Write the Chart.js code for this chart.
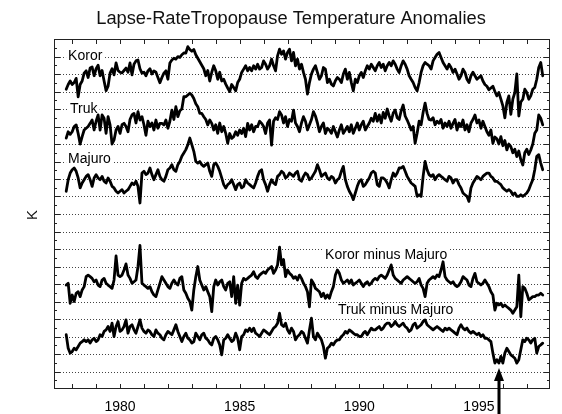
<!DOCTYPE html>
<html>
<head>
<meta charset="utf-8">
<script src="https://cdn.jsdelivr.net/npm/chart.js@4/dist/chart.umd.min.js"></script>
<style>
  html, body { margin: 0; padding: 0; background: #fff; }
  #wrap { width: 562px; height: 414px; }
</style>
</head>
<body>
<div id="wrap"><canvas id="c" width="562" height="414"></canvas></div>
<script>
// Monthly lapse-rate tropopause temperature anomalies (K), 240 months from October 1977.
const firstMonth = 1977.75;

const koror = [
  -0.87,-0.60,-0.40,-0.60,-0.49,-0.25,-1.30,-0.60,-0.40, 0.05, 0.18,-0.20,
   0.34, 0.40,-0.10, 0.30, 0.50,-0.10, 0.20,-0.40,-0.95,-0.70, 0.05, 0.30,
  -0.05, 0.63, 0.20, 0.10, 0.06, 0.20, 0.34, 0.10, 0.63,-0.05, 0.56, 0.75,
   0.80, 0.30, 0.05, 0.10,-0.10, 0.18, 0.30, 0.00, 0.18, 0.10,-0.20,-0.50,
  -0.20, 0.05, 0.18,-0.30, 0.63, 0.80, 0.90, 0.85, 0.99, 0.95, 1.10, 1.20,
   1.20, 1.56, 1.40, 1.30, 1.40, 1.10, 0.90, 0.70, 0.50, 0.30,-0.10, 0.20,
  -0.40, 0.10, 0.47, 0.18,-0.30, 0.10,-0.40,-0.30,-0.58,-0.80,-1.00,-0.60,
  -0.77,-0.96,-0.49,-0.30, 0.09, 0.28, 0.47, 0.18, 0.37, 0.18, 0.47, 0.28,
   0.56, 0.28, 0.37, 0.75, 0.56, 0.28, 0.47, 0.85, 0.47, 0.18, 1.04, 1.42,
   1.13, 1.32, 0.85, 1.23, 1.42, 0.75, 1.23, 0.47, 0.85, 0.28, 0.56, 0.09,
  -0.30,-1.15,-0.49, 0.00, 0.28, 0.47, 0.09,-0.30,-0.10, 0.37, 0.28,-0.49,
  -0.30,-0.58,-0.68,-0.39,-0.20,-0.30,-0.49, 0.00, 0.28,-0.30, 0.09,-0.49,
  -0.96,-0.30,-0.49,-0.10, 0.09,-0.20, 0.18, 0.47, 0.28, 0.56, 0.37, 0.18,
   0.47, 0.66, 0.37, 0.56, 0.18, 0.47, 0.66, 0.47, 0.75, 0.56, 0.28, 0.09,
   0.47, 0.75, 0.56, 0.28,-0.10,-0.30,-0.49,-0.77,-0.96,-0.49, 0.09, 0.47,
   0.66, 0.56, 0.47, 0.28, 0.75, 0.94, 1.13, 1.23, 0.94, 0.66, 0.47, 0.28,
   0.56, 0.37, 0.09, 0.28, 0.00,-0.30,-0.10, 0.28, 0.09,-0.30,-0.49,-0.10,
   0.10,-0.10,-0.30,-0.20,-0.10,-0.40,-0.60,-0.70,-0.90,-0.80,-0.70,-1.00,
  -1.25,-1.06,-1.44,-1.82,-2.50,-1.63,-1.25,-2.30,-1.44,-1.06, 0.00,-2.40,
  -1.60,-1.44,-0.87,-1.06,-1.44,-1.25,-0.87,-0.77,-0.30, 0.37, 0.66,-0.10
];

const truk = [
  -0.66,-0.30,-0.45,-0.30, 0.00, 0.09,-0.40,-1.00,-0.58,-0.20,-0.10, 0.00,
   0.18, 0.37,-0.20, 0.30, 0.66,-0.20, 0.66, 0.47,-0.39, 0.56, 0.09,-1.00,
  -0.77,-0.20, 0.00,-0.39, 0.10, 0.18, 0.00,-0.30, 0.40, 0.66, 0.75, 0.20,
   0.85, 0.37, 0.56, 0.10,-0.50, 0.30, 0.00, 0.20,-0.20, 0.37,-0.10, 0.18,
   0.18, 0.09, 0.37,-0.10, 0.30, 0.94, 0.40, 1.13, 0.56, 0.90, 1.00, 1.70,
   1.70, 1.80, 1.90, 1.80, 1.60, 1.30, 1.13, 0.75, 0.75, 0.56, 0.40, 0.09,
   0.37, 0.18,-0.20, 0.10,-0.39, 0.20,-0.30, 0.00,-0.39,-0.96,-0.40,-0.68,
  -0.58,-0.30,-0.50,-0.20,-0.40,-0.10,-0.58, 0.18,-0.20, 0.10,-0.30, 0.00,
   0.00, 0.30, 0.18, 0.00,-0.40, 0.20, 0.37,-1.06, 0.30, 0.50, 0.40, 0.85,
   0.66, 0.20, 0.56, 0.00, 0.40, 0.30, 0.94, 0.20, 0.00,-0.30, 0.20, 0.56,
   0.30,-0.20, 0.10, 0.40, 0.85, 0.60, 0.20,-0.30, 0.00, 0.20,-0.40,-0.10,
  -0.20,-0.39, 0.00,-0.30,-0.60,-0.20, 0.10,-0.39,-0.20, 0.00,-0.30, 0.10,
  -0.39,-0.10, 0.20,-0.20, 0.10, 0.30,-0.20, 0.00, 0.20, 0.47, 0.30, 0.75,
   0.30, 0.66, 0.20, 0.80, 0.47, 1.00, 0.60, 0.30, 0.77, 0.94, 0.50, 0.40,
   0.90, 1.23, 0.60, 0.37, 0.10,-0.20, 0.00,-0.96,-0.39, 0.30, 0.10, 0.80,
   1.34, 0.75, 0.40, 0.37, 0.50, 0.10, 0.30, 0.18, 0.40,-0.10, 0.20, 0.00,
   0.30,-0.10, 0.18, 0.40,-0.20, 0.20, 0.00, 0.37,-0.20, 0.10,-0.30, 0.20,
   0.40, 0.66, 0.20, 0.37,-0.10, 0.30, 0.00,-0.30,-0.50,-0.20,-0.96,-0.60,
  -0.70,-1.00,-0.58,-1.10,-0.80,-1.34,-1.00,-1.15,-1.50,-1.30,-1.72,-1.40,
  -1.90,-2.20,-1.50,-1.30,-1.60,-1.34,-1.00,-0.39,-0.20, 0.66, 0.47, 0.09
];

const majuro = [
  -0.70,-0.04, 0.34, 0.53, 0.63, 0.44, 0.06,-0.51,-0.23,-0.04, 0.15, 0.25,
  -0.04,-0.42, 0.06, 0.25, 0.06,-0.04, 0.15,-0.13,-0.23, 0.06,-0.13,-0.42,
  -0.51,-0.70,-0.80,-0.70,-0.61,-0.80,-0.70,-0.61,-0.42,-0.23,-0.32,-0.13,
  -0.42,-1.37, 0.34, 0.44, 0.25, 0.34, 0.63, 0.25,-0.04, 0.25, 0.53, 0.15,
  -0.04,-0.13, 0.15, 0.53, 0.63, 0.82, 0.53, 0.44, 0.82, 1.00, 1.30, 1.49,
   1.68, 1.96, 2.34, 1.96, 1.58, 1.00, 0.91, 1.00, 0.82, 0.72, 0.82, 0.91,
   0.44, 0.15, 0.82, 0.91, 0.72, 0.44, 0.06,-0.32,-0.51,-0.32,-0.23,-0.04,
  -0.32,-0.61,-0.32,-0.23,-0.51,-0.42,-0.04,-0.23,-0.32,-0.42,-0.51,-0.23,
   0.15, 0.44, 0.53,-0.04,-0.32,-0.70,-0.32,-0.04,-0.23,-0.32, 0.15, 0.25,
   0.44, 0.34, 0.06, 0.15, 0.34, 0.25, 0.15, 0.34, 0.44,-0.04,-0.13, 0.15,
   0.34, 0.25,-0.04, 0.06, 0.25, 0.44, 0.82, 0.53, 0.15, 0.25, 0.34, 0.06,
  -0.04, 0.15, 0.06,-0.23,-0.04, 0.06, 0.44, 0.72,-0.04,-0.42,-0.70,-0.90,
  -1.18,-0.80,-0.42,-0.13,-0.04,-0.42,-0.32,-0.13, 0.06, 0.34, 0.44, 0.34,
  -0.32,-0.42, 0.06, 0.06,-0.04,-0.23,-0.51,-0.04, 0.34, 0.15, 0.34, 0.63,
   0.63, 0.72, 0.44, 0.15,-0.04,-0.23,-0.32,-0.42,-0.99,-0.90,-0.99, 0.15,
   1.00, 0.53, 0.25, 0.15, 0.25,-0.04, 0.15, 0.25, 0.15, 0.06,-0.04,-0.13,
   0.15, 0.06,-0.23,-0.04,-0.04,-0.32,-0.51,-0.80,-0.90,-0.99,-1.28,-0.51,
  -0.23,-0.04, 0.15, 0.06,-0.04, 0.15, 0.25, 0.34, 0.34, 0.15, 0.06,-0.13,
  -0.13,-0.23,-0.32,-0.51,-0.61,-0.70,-0.61,-0.70,-0.90,-0.80,-0.99,-0.99,
  -0.90,-0.99,-0.90,-0.80,-0.61,-0.32,-0.04, 0.53, 1.30, 1.39, 0.91, 0.53
];

const kororMinusMajuro = [
  -0.06, 0.04,-1.10,-0.63,-1.00,-0.53,-0.44,-0.72,-0.34,-0.15, 0.42, 0.51,
   0.42, 0.32, 0.13, 0.23,-0.06,-0.15, 0.23, 0.32, 0.04,-0.06,-0.15,-0.25,
   0.23, 1.60, 0.51, 0.42, 0.51, 0.80, 1.15, 0.51, 0.32, 0.04, 0.13, 0.23,
   1.00, 2.20, 0.04,-0.06,-0.15,-0.25,-0.15,-0.44,-0.63,-0.72,-0.34, 0.04,
   0.42, 0.23, 0.04,-0.15,-0.25, 0.04, 0.23, 0.04,-0.06, 0.32, 0.42,-0.34,
  -0.53,-0.82,-1.00,-1.49,-0.34, 0.42, 1.00, 0.23,-0.06,-0.34,-0.15,-0.44,
  -0.72,-1.58,-0.15, 0.23,-0.06, 0.13, 0.23,-0.15,-0.34, 0.04, 0.13,-0.72,
   0.42,-1.10,-0.06,-1.20, 0.04, 0.32, 0.23, 0.32, 0.42, 0.51, 0.70, 0.42,
   0.32, 0.51, 0.61, 0.70, 0.61, 0.80, 0.90, 1.00, 0.61, 0.80, 1.09, 2.10,
   1.09, 1.40, 0.42, 0.80, 0.61, 0.51, 0.32, 0.42, 0.23, 0.51, 0.32, 0.04,
  -0.15,-0.44,-1.30, 0.23, 0.04,-0.25,-0.34,-0.44,-0.72,-0.53,-0.82,-0.63,
  -0.82,-0.44,-0.15, 0.51, 0.80, 0.61, 0.23, 0.04, 0.13, 0.23, 0.04, 0.23,
  -0.06, 0.04, 0.13, 0.23, 0.04,-0.15, 0.04, 0.13,-0.06, 0.04, 0.23, 0.32,
   0.23, 0.42, 0.51, 0.42, 0.32, 0.51, 0.80, 1.09, 0.51, 0.32, 0.23, 0.13,
   0.04, 0.23, 0.32, 0.42, 0.32, 0.23, 0.13, 0.04, 0.13, 0.32,-0.06,-0.25,
  -0.72, 0.04, 0.23, 0.32, 0.42, 0.32, 0.51, 0.42, 0.80, 1.27, 0.42, 0.23,
   0.13, 0.04, 0.13,-0.06,-0.15,-0.06, 0.13, 0.42, 0.32, 0.23,-0.06,-0.15,
   0.32, 0.61, 0.13, 0.04,-0.06, 0.04, 0.23, 0.04,-0.15,-0.44,-0.63,-1.49,
  -1.10,-1.20,-1.10,-1.30,-1.20,-1.30,-1.39,-1.49,-1.68,-1.49,-1.30, 0.51,
  -1.87,-0.15,-0.25,-0.53,-0.91,-0.82,-0.72,-0.72,-0.63,-0.63,-0.53,-0.63
];

const trukMinusMajuro = [
   0.10,-0.67,-0.95,-0.86,-0.67,-0.76,-0.57,-0.38,-0.29,-0.19,-0.29,-0.19,
  -0.38,-0.19,-0.10,-0.29,-0.19, 0.10, 0.00, 0.29, 0.38, 0.57, 0.29, 0.76,
   0.00, 0.57, 0.86, 0.29, 0.38, 0.57, 0.95, 0.19, 0.57, 0.67, 0.38, 0.19,
   0.57, 0.95, 0.48, 0.29, 0.19, 0.38, 0.29, 0.10, 0.00, 0.38, 0.19, 0.10,
  -0.10,-0.19, 0.10, 0.29, 0.19, 0.10, 0.38, 0.67, 0.29, 0.00,-0.29, 0.00,
   0.19,-0.10,-0.19,-0.38,-0.29, 0.19, 0.00,-0.19, 0.10, 0.19,-0.10,-0.19,
  -0.38,-0.48,-0.10, 0.00,-0.19,-0.48,-1.05,-0.19,-0.10, 0.10,-0.10,-0.29,
  -0.19, 0.19,-0.10,-0.76, 0.00, 0.10, 0.38, 0.29, 0.48, 0.29, 0.48, 0.19,
   0.10, 0.00, 0.19, 0.38, 0.29, 0.19, 0.10, 0.29, 0.48, 0.57, 0.76, 1.33,
   0.67, 0.57, 0.76, 0.38, 0.19, 0.48, 0.29,-0.19, 0.00, 0.10, 0.29, 0.19,
  -0.10,-0.38, 0.38, 1.05, 0.00,-0.19, 0.19, 0.00,-0.19,-0.57,-1.24,-0.67,
  -0.57,-0.38,-0.48,-0.29,-0.19,-0.19, 0.00, 0.10, 0.29, 0.19, 0.38, 0.29,
   0.19, 0.10, 0.10, 0.00, 0.00, 0.19, 0.29, 0.10, 0.29, 0.48, 0.38, 0.38,
   0.48, 0.57, 0.38, 0.48, 0.67, 0.76, 0.76, 0.57, 0.67, 0.86, 0.67, 0.57,
   0.67, 0.76, 0.57, 0.48, 0.29, 0.38, 0.67, 0.76, 0.48, 0.57, 0.67, 0.86,
   0.95, 0.67, 0.57, 0.48, 0.38, 0.48, 0.57, 0.48, 0.38, 0.29, 0.48, 0.38,
   0.48, 0.38, 0.29, 0.19, 0.10, 0.48, 0.67, 0.48, 0.38, 0.48, 0.29, 0.19,
   0.29, 0.19, 0.10, 0.19, 0.00, 0.10,-0.10,-0.10,-0.19,-0.29,-0.95,-1.52,
  -1.33,-1.52,-1.14,-1.52,-0.95,-0.67,-0.86,-1.05,-1.14,-1.24,-1.52,-1.33,
  -0.76,-0.19,-0.29,-0.10,-0.19,-0.38,-0.19,-0.10,-0.95,-0.57,-0.48,-0.38
];

// Each curve is shifted up the stack by its own offset (K).
const seriesNames   = ['Koror', 'Truk', 'Majuro', 'Koror minus Majuro', 'Truk minus Majuro'];
const seriesValues  = [koror, truk, majuro, kororMinusMajuro, trukMinusMajuro];
const seriesOffsets = [18, 15, 12, 6, 3];

// Label anchors: [decimal year of left edge, value of vertical centre]
const labelAnchors = [[1977.83, 19.0], [1977.91, 16.0], [1977.83, 13.15], [1988.57, 7.66], [1989.11, 4.51]];

const xTickLabels = [1980, 1985, 1990, 1995];
const arrowYear = 1995.85;
const xMin = 1977.24, xMax = 1997.97;
const yMin = 0, yMax = 20;

const FONT = '"Liberation Sans", Arial, Helvetica, sans-serif';

const datasets = seriesValues.map((vals, s) => ({
  label: seriesNames[s],
  data: vals.map((v, i) => ({ x: firstMonth + i / 12, y: seriesOffsets[s] + v })),
  borderColor: '#000',
  borderWidth: 2.8,
  pointRadius: 0,
  tension: 0,
  fill: false,
  borderJoinStyle: 'round',
  borderCapStyle: 'round'
}));

const framePlugin = {
  id: 'frame',
  beforeDatasetsDraw(chart) {
    const { ctx, chartArea: a, scales: { x, y } } = chart;
    ctx.save();
    // dotted horizontal grid
    ctx.strokeStyle = '#444';
    ctx.lineWidth = 1;
    ctx.setLineDash([1, 2]);
    for (let v = yMin + 1; v < yMax; v++) {
      const py = Math.round(y.getPixelForValue(v)) + 0.5;
      ctx.beginPath(); ctx.moveTo(a.left, py); ctx.lineTo(a.right, py); ctx.stroke();
    }
    ctx.setLineDash([]);
    // frame
    ctx.strokeStyle = '#222';
    ctx.strokeRect(a.left + 0.5, a.top + 0.5, a.right - a.left - 1, a.bottom - a.top - 1);
    // inward tick marks
    ctx.beginPath();
    for (let v = yMin + 0.5; v < yMax; v += 0.5) {
      const py = Math.round(y.getPixelForValue(v)) + 0.5;
      const len = Number.isInteger(v) ? 6 : 3;
      ctx.moveTo(a.left, py); ctx.lineTo(a.left + len, py);
      ctx.moveTo(a.right, py); ctx.lineTo(a.right - len, py);
    }
    for (let yr = Math.ceil(xMin); yr <= Math.floor(xMax); yr++) {
      const px = Math.round(x.getPixelForValue(yr)) + 0.5;
      ctx.moveTo(px, a.bottom); ctx.lineTo(px, a.bottom - 5);
      ctx.moveTo(px, a.top); ctx.lineTo(px, a.top + 5);
    }
    ctx.stroke();
    // series labels on white boxes
    ctx.font = '14px ' + FONT;
    ctx.textBaseline = 'middle';
    ctx.textAlign = 'left';
    seriesNames.forEach((name, s) => {
      const px = x.getPixelForValue(labelAnchors[s][0]);
      const py = y.getPixelForValue(labelAnchors[s][1]);
      const w = ctx.measureText(name).width;
      ctx.fillStyle = '#fff';
      ctx.fillRect(px - 2, py - 7, w + 4, 14);
      ctx.fillStyle = '#000';
      ctx.fillText(name, px, py);
    });
    ctx.restore();
  },
  afterDraw(chart) {
    const { ctx, chartArea: a, scales: { x, y } } = chart;
    ctx.save();
    // title
    ctx.fillStyle = '#111';
    ctx.font = '18.3px ' + FONT;
    ctx.textAlign = 'center';
    ctx.textBaseline = 'middle';
    ctx.fillText('Lapse-RateTropopause Temperature Anomalies', 291, 19);
    // axis unit
    ctx.font = '15px ' + FONT;
    ctx.translate(33, (a.top + a.bottom) / 2 + 1);
    ctx.rotate(-Math.PI / 2);
    ctx.fillText('K', 0, 0);
    ctx.restore();
    // arrow marking the step
    ctx.save();
    const ax = Math.round(x.getPixelForValue(arrowYear));
    const tip = y.getPixelForValue(1.2);
    ctx.fillStyle = '#000';
    ctx.beginPath();
    ctx.moveTo(ax, tip);
    ctx.lineTo(ax - 5, tip + 13);
    ctx.lineTo(ax + 5, tip + 13);
    ctx.closePath();
    ctx.fill();
    ctx.fillRect(ax - 1.5, tip + 12, 3, chart.height - tip - 12);
    ctx.restore();
  }
};

new Chart(document.getElementById('c'), {
  type: 'line',
  data: { datasets },
  options: {
    responsive: false,
    animation: false,
    devicePixelRatio: 1,
    layout: { padding: { left: 54, right: 12, top: 39, bottom: 0 } },
    plugins: { legend: { display: false }, title: { display: false }, tooltip: { enabled: false } },
    scales: {
      x: {
        type: 'linear',
        min: xMin, max: xMax,
        bounds: 'data',
        grid: { display: false, drawTicks: false },
        border: { display: false },
        afterFit(scale) { scale.height = 25; },
        afterBuildTicks(scale) { scale.ticks = xTickLabels.map(v => ({ value: v })); },
        ticks: {
          autoSkip: false, maxRotation: 0, padding: 10,
          color: '#000', font: { family: FONT, size: 14 },
          callback: v => String(v)
        }
      },
      y: {
        type: 'linear',
        display: false,
        min: yMin, max: yMax
      }
    }
  },
  plugins: [framePlugin]
});
</script>
</body>
</html>
